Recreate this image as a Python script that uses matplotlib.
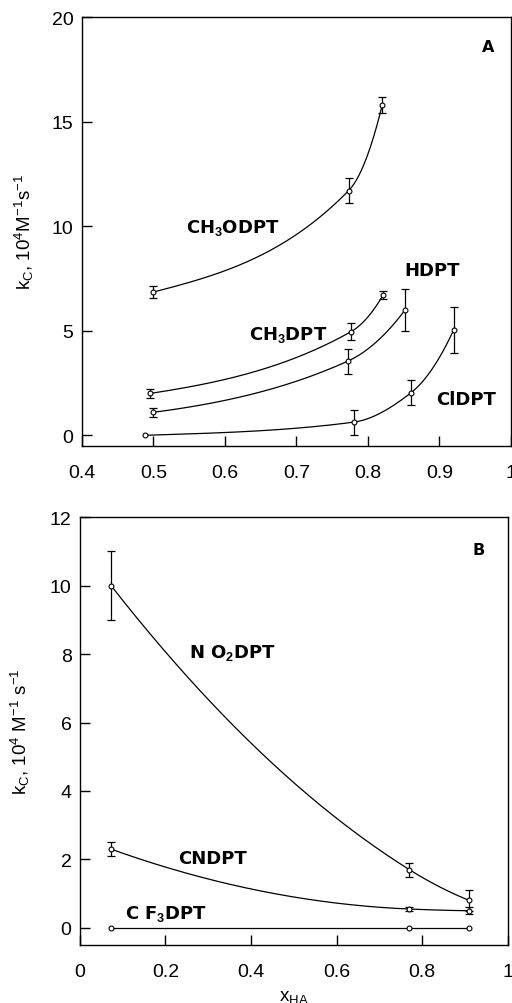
import numpy as np
import matplotlib
matplotlib.use("Agg")
import matplotlib.pyplot as plt

plt.rcParams['font.family'] = ['Liberation Sans', 'DejaVu Sans']
plt.rcParams['mathtext.fontset'] = 'custom'
plt.rcParams['mathtext.rm'] = 'Liberation Sans'
plt.rcParams['mathtext.it'] = 'Liberation Sans'
plt.rcParams['mathtext.bf'] = 'Liberation Sans:bold'

# ---------------- Data: panel A ----------------
x_ch3o = [0.500, 0.773, 0.820]
y_ch3o = [6.85, 11.7, 15.8]
e_ch3o = [0.30, 0.60, 0.40]

x_ch3 = [0.495, 0.776, 0.821]
y_ch3 = [2.00, 4.95, 6.70]
e_ch3 = [0.20, 0.40, 0.20]

x_h = [0.500, 0.772, 0.852]
y_h = [1.10, 3.55, 6.00]
e_h = [0.20, 0.60, 1.00]

x_cl = [0.488, 0.780, 0.860, 0.920]
y_cl = [0.00, 0.63, 2.03, 5.05]
e_cl = [0.00, 0.60, 0.60, 1.10]

xticks_a = [0.4, 0.5, 0.6, 0.7, 0.8, 0.9, 1.0]
xticklabels_a = ["0.4", "0.5", "0.6", "0.7", "0.8", "0.9", "1"]
yticks_a = [0, 5, 10, 15, 20]

# ---------------- Data: panel B ----------------
x_b = [0.073, 0.770, 0.910]
y_no2 = [10.0, 1.70, 0.80]
e_no2 = [1.00, 0.20, 0.30]
y_cn = [2.30, 0.55, 0.50]
e_cn = [0.20, 0.05, 0.10]
y_cf3 = [0.0, 0.0, 0.0]
e_cf3 = [0.0, 0.0, 0.0]

xticks_b = [0, 0.2, 0.4, 0.6, 0.8, 1.0]
xticklabels_b = ["0", "0.2", "0.4", "0.6", "0.8", "1"]
yticks_b = [0, 2, 4, 6, 8, 10, 12]


def smooth(x, y, n=300):
    """Monotone Hermite curve through the data points."""
    x = np.asarray(x, float)
    y = np.asarray(y, float)
    h = np.diff(x)
    d = np.diff(y) / h
    m = np.zeros_like(x)
    for i in range(1, len(x) - 1):
        if d[i - 1] * d[i] > 0:
            w1 = 2 * h[i] + h[i - 1]
            w2 = h[i] + 2 * h[i - 1]
            m[i] = (w1 + w2) / (w1 / d[i - 1] + w2 / d[i])
    for i, di, mi in [(0, d[0], m[1]), (len(x) - 1, d[-1], m[-2])]:
        e = 2 * di - mi
        if e * di < 0 or abs(e) < 0.5 * abs(di):
            e = 0.5 * di
        m[i] = e
    xs_all, ys_all = [], []
    for k in range(len(x) - 1):
        t = np.linspace(0, 1, n)
        h00 = 2 * t**3 - 3 * t**2 + 1
        h10 = t**3 - 2 * t**2 + t
        h01 = -2 * t**3 + 3 * t**2
        h11 = t**3 - t**2
        ys = h00 * y[k] + h10 * h[k] * m[k] + h01 * y[k + 1] + h11 * h[k] * m[k + 1]
        xs = x[k] + t * h[k]
        xs_all.append(xs)
        ys_all.append(ys)
    return np.concatenate(xs_all), np.concatenate(ys_all)


def draw_series(ax, x, y, e):
    x = np.asarray(x, float)
    y = np.asarray(y, float)
    e = np.asarray(e, float)
    xs, ys = smooth(x, y)
    ax.plot(xs, ys, color='k', lw=0.9, zorder=2)
    mask = e > 0
    if mask.any():
        ax.errorbar(x[mask], y[mask], yerr=e[mask], fmt='none', ecolor='k',
                    elinewidth=0.9, capsize=3, capthick=0.9, zorder=3)
    ax.plot(x, y, 'o', ms=3.5, mfc='white', mec='k', mew=0.8, zorder=4)


def style_axes(ax):
    for s in ax.spines.values():
        s.set_linewidth(1.0)
        s.set_color('k')
    ax.tick_params(direction='in', length=7, width=1.0, labelsize=14,
                   top=False, right=False)
    ax.tick_params(axis='x', pad=13)
    ax.tick_params(axis='y', pad=6)


fig = plt.figure(figsize=(5.12, 10.04), dpi=100)

lab = dict(fontfamily='DejaVu Sans', fontweight='bold', fontsize=13,
           ha='left', va='baseline')

# ---------------- Panel A ----------------
axA = fig.add_axes([0.160, 0.555, 0.838, 0.427])
draw_series(axA, x_ch3o, y_ch3o, e_ch3o)
draw_series(axA, x_ch3, y_ch3, e_ch3)
draw_series(axA, x_h, y_h, e_h)
draw_series(axA, x_cl, y_cl, e_cl)
axA.set_xlim(0.4, 1.0)
axA.set_ylim(-0.5, 20)
axA.set_xticks(xticks_a)
axA.set_xticklabels(xticklabels_a)
axA.set_yticks(yticks_a)
style_axes(axA)
axA.set_ylabel(r"k$_\mathrm{C}$, 10$^4$M$^{-1}$s$^{-1}$", fontsize=13.5)
axA.yaxis.set_label_coords(-0.107, 0.5)
axA.text(0.545, 9.7, r"CH$_\mathbf{3}$ODPT", **lab)
axA.text(0.851, 7.67, "HDPT", **lab)
axA.text(0.633, 4.62, r"CH$_\mathbf{3}$DPT", **lab)
axA.text(0.896, 1.48, "ClDPT", **lab)
axA.text(0.977, 18.4, "A", fontfamily='DejaVu Sans', fontweight='bold',
         fontsize=11.5, ha='right', va='baseline')

# ---------------- Panel B ----------------
axB = fig.add_axes([0.156, 0.0578, 0.836, 0.426])
draw_series(axB, x_b, y_no2, e_no2)
draw_series(axB, x_b, y_cn, e_cn)
draw_series(axB, x_b, y_cf3, e_cf3)
axB.set_xlim(0, 1.0)
axB.set_ylim(-0.5, 12)
axB.set_xticks(xticks_b)
axB.set_xticklabels(xticklabels_b)
axB.set_yticks(yticks_b)
style_axes(axB)
axB.set_ylabel(r"k$_\mathrm{C}$, 10$^4$ M$^{-1}$ s$^{-1}$", fontsize=13.5)
axB.yaxis.set_label_coords(-0.112, 0.5)
axB.set_xlabel(r"x$_\mathrm{HA}$", fontsize=13.5, va='top')
axB.xaxis.set_label_coords(0.5, -0.100)
axB.text(0.2547, 7.93, r"N O$_\mathbf{2}$DPT", **lab)
axB.text(0.2297, 1.90, "CNDPT", **lab)
axB.text(0.105, 0.28, r"C F$_\mathbf{3}$DPT", **lab)
axB.text(0.946, 10.92, "B", fontfamily='DejaVu Sans', fontweight='bold',
         fontsize=11.5, ha='right', va='baseline')

fig.savefig("out.png", dpi=100)
